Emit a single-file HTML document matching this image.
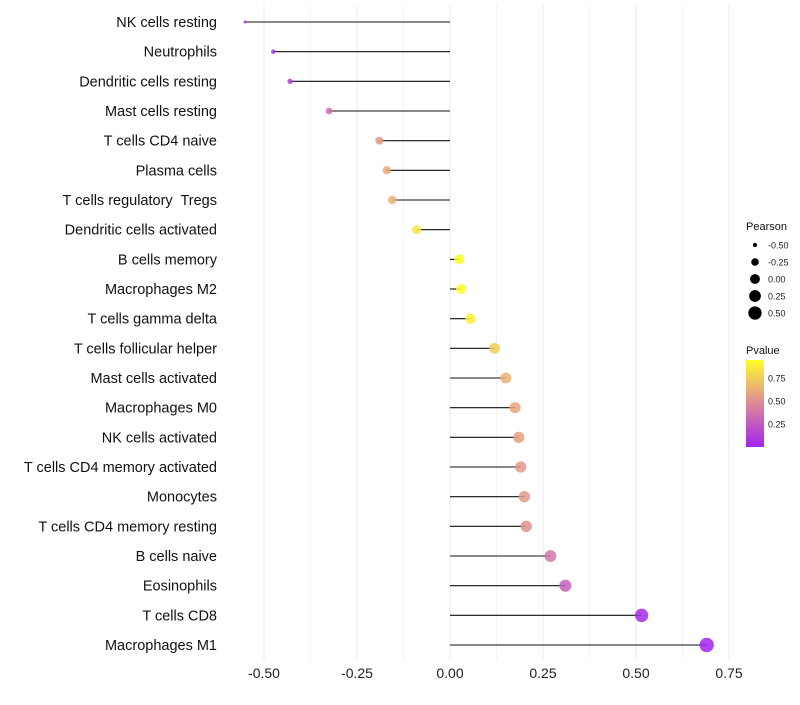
<!DOCTYPE html>
<html><head><meta charset="utf-8"><style>
body{margin:0;background:#fff;font-family:"Liberation Sans",sans-serif}
text{white-space:pre}
</style></head><body>
<svg id="chart" width="800" height="700" xmlns="http://www.w3.org/2000/svg"></svg>
<script>
const categories=["NK cells resting","Neutrophils","Dendritic cells resting","Mast cells resting","T cells CD4 naive","Plasma cells","T cells regulatory  Tregs","Dendritic cells activated","B cells memory","Macrophages M2","T cells gamma delta","T cells follicular helper","Mast cells activated","Macrophages M0","NK cells activated","T cells CD4 memory activated","Monocytes","T cells CD4 memory resting","B cells naive","Eosinophils","T cells CD8","Macrophages M1"];
const pearson=[-0.551,-0.475,-0.43,-0.325,-0.19,-0.17,-0.155,-0.09,0.025,0.03,0.055,0.12,0.15,0.175,0.185,0.19,0.2,0.205,0.27,0.31,0.515,0.69];
const pvalue=[0.05,0.1,0.15,0.35,0.55,0.62,0.65,0.85,0.95,0.95,0.9,0.75,0.65,0.6,0.58,0.55,0.55,0.52,0.4,0.3,0.05,0.02];
const xTicks=[-0.5,-0.25,0,0.25,0.5,0.75];
const xTickLabels=["-0.50","-0.25","0.00","0.25","0.50","0.75"];
const sizeLegend=[-0.5,-0.25,0,0.25,0.5];
const sizeLegendLabels=["-0.50","-0.25","0.00","0.25","0.50"];
const pLegend=[0.25,0.5,0.75];
const pLegendLabels=["0.25","0.50","0.75"];

const svg=document.getElementById('chart');
const NS="http://www.w3.org/2000/svg";
const x=v=>450+v*372;
const y=i=>22+i*29.667;
const rad=v=>{const f=Math.max(0,(v+0.551)/(0.69+0.551));return Math.sqrt(2.25+f*(52-2.25));};
function col(p){
  const stops=[[0,[160,32,240]],[0.5,[222,140,150]],[0.95,[255,255,40]]];
  let a=stops[0],b=stops[1];
  if(p>0.5){a=stops[1];b=stops[2];}
  let t=Math.max(0,Math.min(1,(p-a[0])/(b[0]-a[0])));
  return 'rgb('+a[1].map((c,k)=>Math.round(c+(b[1][k]-c)*t)).join(',')+')';
}
function mk(tag,attrs,txt){const e=document.createElementNS(NS,tag);for(const k in attrs)e.setAttribute(k,attrs[k]);if(txt!=null)e.textContent=txt;svg.appendChild(e);return e;}
for(let v=-0.5;v<=0.76;v+=0.125){
  const g=mk('line',{x1:x(v),x2:x(v),y1:5,y2:660,stroke:'#ebebeb','stroke-width':Math.abs((v*4)%1)<0.01?1:0.6});
  
  
}
xTicks.forEach((v,i)=>{
  const t=mk('text',{x:x(v),y:678,'text-anchor':'middle','font-size':14,fill:'#222'},xTickLabels[i]);
  
  
});
categories.forEach((c,i)=>{
  const t=mk('text',{x:217,y:y(i)+5,'text-anchor':'end','font-size':14.5,fill:'#111'},c);
  
  
  const l=mk('line',{x1:x(0),x2:x(pearson[i]),y1:y(i),y2:y(i),stroke:'#111','stroke-width':1.1});
  
  
  const p=mk('circle',{cx:x(pearson[i]),cy:y(i),r:rad(pearson[i]),fill:col(pvalue[i]),'fill-opacity':0.85});
  
  
});
let t0=mk('text',{x:746,y:230,'font-size':11,fill:'#111'},'Pearson');


sizeLegend.forEach((v,i)=>{
  const cy=245+i*17;
  const c=mk('circle',{cx:755,cy:cy,r:rad(v),fill:'#000'});
  
  
  const t=mk('text',{x:768,y:cy+3.5,'font-size':9,fill:'#222'},sizeLegendLabels[i]);
  
  
});
let t1=mk('text',{x:746,y:354,'font-size':11,fill:'#111'},'Pvalue');


const defs=mk('defs',{});
const lg=document.createElementNS(NS,'linearGradient');
lg.setAttribute('id','pg');lg.setAttribute('x1','0');lg.setAttribute('y1','1');lg.setAttribute('x2','0');lg.setAttribute('y2','0');
for(let k=0;k<=10;k++){const s=document.createElementNS(NS,'stop');s.setAttribute('offset',k/10);s.setAttribute('stop-color',col(0.02+k/10*0.93));lg.appendChild(s);}
defs.appendChild(lg);
const bar=mk('rect',{x:746,y:360,width:18,height:87,fill:'url(#pg)'});


pLegend.forEach((v,i)=>{
  const yy=447-v*92;
  const t=mk('text',{x:768,y:yy+3.5,'font-size':9,fill:'#222'},pLegendLabels[i]);
  
  
});
</script>
</body></html>
